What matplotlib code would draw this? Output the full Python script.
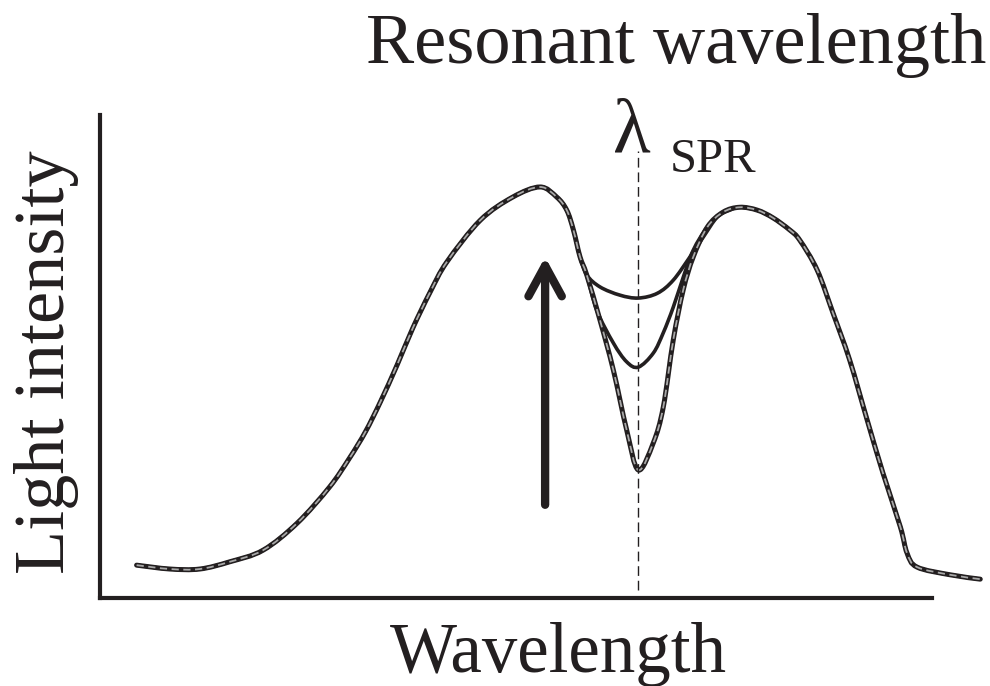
import matplotlib
matplotlib.use("Agg")
import matplotlib.pyplot as plt
import numpy as np
from matplotlib.path import Path
from matplotlib.patches import PathPatch

plt.rcParams['font.family'] = ['Liberation Serif', 'DejaVu Serif']

# Shared rising edge of the spectrum (arbitrary units)
left_x = [4.4, 8.4, 12.0, 15.6, 19.6, 23.7, 27.6, 30.0, 31.9, 33.7, 35.7, 37.6,
          39.7, 41.7, 45.7, 49.6, 52.9, 54.9, 56.1, 56.9, 57.7]
left_y = [6.8, 6.0, 6.0, 7.5, 9.9, 15.5, 23.0, 29.0, 34.4, 40.6, 48.2, 55.9,
          63.4, 69.6, 78.2, 83.0, 85.1, 83.0, 80.3, 76.2, 70.6]

# Shared falling edge
right_x = [76.9, 79.0, 80.9, 82.9, 84.1, 86.2, 88.1, 90.1, 92.2, 94.1, 96.2,
           97.0, 98.2, 102.2, 105.8]
right_y = [80.9, 80.3, 78.7, 76.2, 74.1, 67.9, 59.0, 49.3, 36.9, 25.9, 14.7,
           9.3, 6.4, 4.8, 3.9]

# Dip region around the resonance, three coupling states
shallow_x = [58.5, 60.1, 62.5, 64.7, 67.0, 68.9, 70.9, 72.5, 74.2, 75.7]
shallow_y = [66.9, 64.4, 62.7, 62.1, 63.1, 65.8, 70.6, 74.7, 78.9, 80.3]

middle_x = [58.5, 59.7, 61.7, 63.3, 64.7, 66.5, 67.7, 68.9, 70.1, 71.3, 73.0, 74.9]
middle_y = [66.9, 59.6, 52.8, 48.9, 47.8, 50.7, 54.9, 60.2, 66.4, 72.0, 76.8, 79.9]

deep_x = [58.5, 60.1, 61.7, 63.3, 64.7, 66.5, 67.7, 68.9, 70.1, 71.3, 73.0, 74.9]
deep_y = [66.9, 57.5, 47.2, 34.8, 26.5, 32.1, 39.5, 53.4, 63.8, 70.6, 76.8, 79.9]

lambda_spr = 64.7


def smooth_path(xs, ys):
    # Catmull-Rom through the points, turned into cubic bezier segments
    p = np.column_stack([xs, ys])
    ext = np.vstack([p[0], p, p[-1]])
    verts = [p[0]]
    codes = [Path.MOVETO]
    for i in range(1, len(ext) - 2):
        c1 = ext[i] + (ext[i + 1] - ext[i - 1]) / 6
        c2 = ext[i + 1] - (ext[i + 2] - ext[i]) / 6
        verts += [c1, c2, ext[i + 1]]
        codes += [Path.CURVE4] * 3
    return Path(verts, codes)


fig = plt.figure(figsize=(9.9, 6.86), dpi=100)
ax = fig.add_axes([100 / 990, 88 / 686, 832 / 990, 483 / 686])
ax.set_xlim(0, 100)
ax.set_ylim(0, 100)
for side in ['top', 'right']:
    ax.spines[side].set_visible(False)
for side in ['left', 'bottom']:
    ax.spines[side].set_linewidth(3)
    ax.spines[side].set_color('#231f20')
ax.set_xticks([])
ax.set_yticks([])

curves = [(shallow_x, shallow_y, False), (middle_x, middle_y, False), (deep_x, deep_y, True)]
for dx, dy, dashed in curves:
    xs = left_x + dx + right_x
    ys = left_y + dy + right_y
    path = smooth_path(xs, ys)
    ax.add_patch(PathPatch(path, fill=False, edgecolor='#231f20', lw=2.6 if not dashed else 3.6,
                           clip_on=False, capstyle='round', joinstyle='round'))
    if dashed:
        ax.add_patch(PathPatch(path, fill=False, edgecolor='#a8a8a8', lw=1.3,
                               linestyle=(0, (4, 2.5)), clip_on=False))

ax.plot([lambda_spr, lambda_spr], [1.7, 92.5], color='#231f20', lw=1.0,
        linestyle=(0, (7, 3.5)), clip_on=False)

ax.annotate('', xy=(53.5, 70.6), xytext=(53.5, 19.3),
            arrowprops=dict(arrowstyle='->,head_length=1.1,head_width=0.6',
                            lw=6, color='#231f20', mutation_scale=20,
                            capstyle='round', joinstyle='round',
                            shrinkA=0, shrinkB=0))

fig.text(676 / 990, 1 - 63 / 686, 'Resonant wavelength', fontsize=52,
         ha='center', va='baseline', color='#231f20')
fig.text(558 / 990, 1 - 672 / 686, 'Wavelength', fontsize=51,
         ha='center', va='baseline', color='#231f20')
fig.text(47 / 990, 1 - 362 / 686, 'Light intensity', fontsize=52, rotation=90,
         ha='center', va='center', color='#231f20')
fig.text(632 / 990, 1 - 152 / 686, 'λ', fontsize=56,
         ha='center', va='baseline', color='#231f20')
fig.text(670 / 990, 1 - 172 / 686, 'SPR', fontsize=35,
         ha='left', va='baseline', color='#231f20')

fig.savefig('out.png', dpi=100)
